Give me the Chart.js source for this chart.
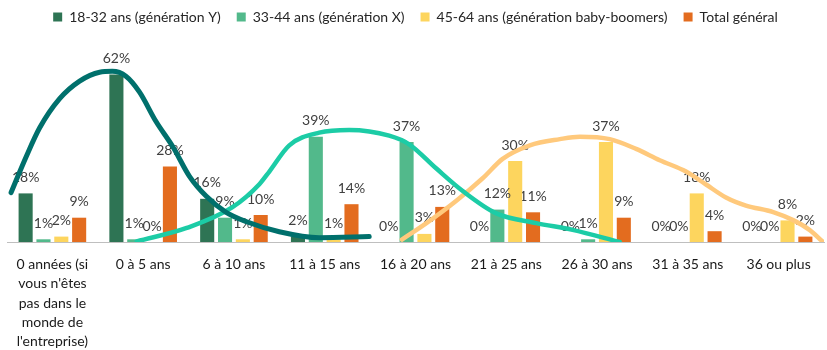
<!DOCTYPE html>
<html lang="fr">
<head>
<meta charset="utf-8">
<script src="https://cdn.jsdelivr.net/npm/chart.js@4/dist/chart.umd.min.js"></script>
<style>
  html, body { margin: 0; padding: 0; background: #ffffff; }
  #wrap { width: 827px; height: 350px; position: relative; }
  .layer { position: absolute; left: 0; top: 0; width: 827px; height: 350px; }
</style>
</head>
<body>
<div id="wrap">
  <div class="layer"><canvas id="bars"></canvas></div>
  <div class="layer"><canvas id="curves"></canvas></div>
</div>
<script>
// Years of experience in a company, by age bracket (percent of respondents)
const categories = [
  ["0 années (si", "vous n'êtes", "pas dans le", "monde de", "l'entreprise)"],
  "0 à 5 ans", "6 à 10 ans", "11 à 15 ans", "16 à 20 ans",
  "21 à 25 ans", "26 à 30 ans", "31 à 35 ans", "36 ou plus"
];
const seriesNames = [
  "18-32 ans (génération Y)",
  "33-44 ans (génération X)",
  "45-64 ans (génération baby-boomers)",
  "Total général"
];
const genY      = [18, 62, 16, 2, 0, 0, 0, 0, 0];
const genX      = [1, 1, 9, 39, 37, 12, 1, 0, 0];
const boomers   = [2, 0, 1, 1, 3, 30, 37, 18, 8];
const total     = [9, 28, 10, 14, 13, 11, 9, 4, 2];

// Hand-drawn trend curves, one per generation: [category position, percent]
const trendY = [
  [-0.455, 18.3], [-0.29, 31.5], [-0.14, 42.3], [0.08, 53.1], [0.30, 59.6],
  [0.52, 62.9], [0.66, 63.2], [0.81, 61.4], [0.96, 55.5], [1.14, 44.7],
  [1.33, 35.1], [1.51, 24.3], [1.69, 17.1], [1.91, 11.1], [2.14, 7.5],
  [2.5, 3.8], [2.94, 1.6], [3.49, 2.0]
];
const trendX = [
  [0.93, 0.2], [1.48, 5.2], [1.98, 12.8], [2.28, 21.4], [2.39, 26.1],
  [2.61, 35.8], [2.94, 40.5], [3.27, 41.5], [3.71, 39.4], [3.93, 36.2],
  [4.23, 27.2], [4.52, 18.9], [4.89, 10.6], [5.33, 7.0], [5.73, 4.5], [6.25, 0]
];
const trendBoomers = [
  [3.85, 0.9], [4.12, 7.0], [4.45, 15.3], [4.74, 23.6], [4.96, 30.8],
  [5.26, 35.8], [5.59, 38.1], [5.81, 39.0], [6.14, 38.1], [6.43, 34.5],
  [6.69, 30.3], [6.98, 26.1], [7.20, 21.3], [7.42, 16.5], [7.64, 13.5],
  [7.94, 11.1], [8.16, 8.1], [8.34, 4.5], [8.49, 0]
];

const barColors = ["#2E7454", "#52B98B", "#FDD55E", "#E36C1F"];
const curveColors = ["#00706C", "#1CCCA6", "#FFC97C"];

const FONT = "Lato, 'Open Sans', sans-serif";
const Y_MAX = 70;

const toPoints = arr => arr.map(p => ({ x: p[0], y: p[1] }));

// Value labels above each bar
const barValueLabels = {
  id: 'barValueLabels',
  afterDatasetDraw(chart, args) {
    const meta = args.meta;
    const ctx = chart.ctx;
    const data = chart.data.datasets[args.index].data;
    ctx.save();
    ctx.font = "14px " + FONT;
    ctx.fillStyle = "#404040";
    ctx.textAlign = "center";
    ctx.textBaseline = "middle";
    meta.data.forEach((bar, i) => {
      ctx.fillText(data[i] + "%", bar.x, bar.y - 16);
    });
    ctx.restore();
  }
};

// Extra room under the legend row
const legendGap = {
  id: 'legendGap',
  beforeInit(chart) {
    const fit = chart.legend.fit;
    chart.legend.fit = function () {
      fit.call(this);
      this.height += 19;
    };
  }
};

const barChart = new Chart(document.getElementById('bars'), {
  type: 'bar',
  data: {
    labels: categories,
    datasets: [
      { label: seriesNames[0], data: genY, backgroundColor: barColors[0] },
      { label: seriesNames[1], data: genX, backgroundColor: barColors[1] },
      { label: seriesNames[2], data: boomers, backgroundColor: barColors[2] },
      { label: seriesNames[3], data: total, backgroundColor: barColors[3] }
    ]
  },
  plugins: [barValueLabels, legendGap],
  options: {
    responsive: true,
    maintainAspectRatio: false,
    animation: false,
    layout: { padding: { left: 7, right: 3, top: -6, bottom: 0 } },
    datasets: {
      bar: { categoryPercentage: 0.786, barPercentage: 0.79 }
    },
    plugins: {
      tooltip: { enabled: false },
      legend: {
        position: 'top',
        labels: {
          boxWidth: 9,
          boxHeight: 9,
          padding: 16,
          color: '#262626',
          font: { family: FONT, size: 14 }
        }
      }
    },
    scales: {
      x: {
        type: 'category',
        offset: true,
        grid: { display: false, drawTicks: false },
        border: { display: true, color: '#BFBFBF', width: 1 },
        ticks: {
          color: '#1a1a1a',
          padding: 13,
          maxRotation: 0,
          autoSkip: false,
          font: { family: FONT, size: 14, lineHeight: 1.38 }
        },
        afterFit(scale) { scale.height = 108; }
      },
      y: { display: false, min: 0, max: Y_MAX }
    }
  }
});

// Trend curves on a transparent layer sharing the bar chart's plot area
const area = barChart.chartArea;
new Chart(document.getElementById('curves'), {
  type: 'line',
  data: {
    datasets: [
      { label: 'Y', data: toPoints(trendY), borderColor: curveColors[0], borderWidth: 5 },
      { label: 'X', data: toPoints(trendX), borderColor: curveColors[1], borderWidth: 4.5 },
      { label: 'BB', data: toPoints(trendBoomers), borderColor: curveColors[2], borderWidth: 4.5 }
    ]
  },
  options: {
    responsive: true,
    maintainAspectRatio: false,
    animation: false,
    layout: {
      padding: {
        left: area.left,
        top: area.top,
        right: 827 - area.right,
        bottom: 350 - area.bottom
      }
    },
    elements: {
      point: { radius: 0 },
      line: { cubicInterpolationMode: 'monotone', fill: false, borderCapStyle: 'round' }
    },
    plugins: { legend: { display: false }, tooltip: { enabled: false } },
    scales: {
      x: { type: 'linear', display: false, offset: false, min: -0.5, max: 8.5 },
      y: { display: false, min: 0, max: Y_MAX }
    }
  }
});
</script>
</body>
</html>
